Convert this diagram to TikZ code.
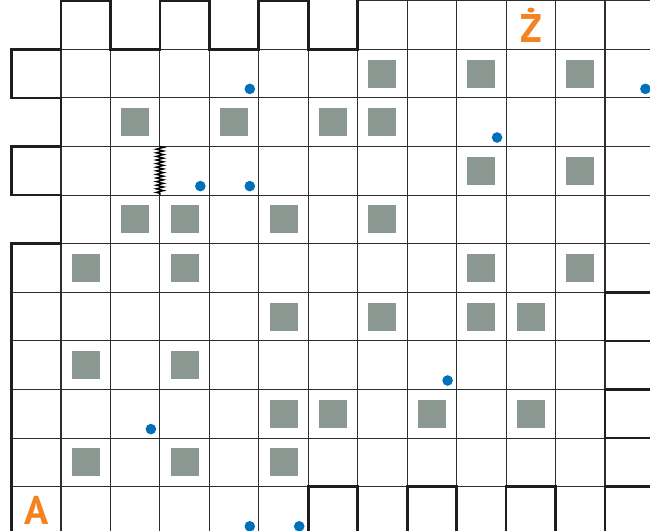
\documentclass[tikz,border=0pt]{standalone}
\usepackage{fontspec}
\newfontfamily\lblfont{PT Sans}
\usetikzlibrary{decorations.pathmorphing}
\definecolor{gridc}{RGB}{45,45,45}
\definecolor{wallc}{RGB}{30,30,30}
\definecolor{blockc}{RGB}{138,152,145}
\definecolor{dotc}{RGB}{0,112,186}
\definecolor{letc}{RGB}{245,130,32}
\begin{document}
\begin{tikzpicture}[x=49.45pt,y=-48.6pt,
  gridline/.style={draw=gridc,line width=1.1pt},
  wall/.style={draw=wallc,line width=2.7pt,line join=miter},
  block/.style={fill=blockc},
  token/.style={fill=dotc},
  spring/.style={draw=black,line width=1.3pt,decorate,
    decoration={zigzag,segment length=3.6pt,amplitude=3.8pt}},
  letter/.style={text=letc,font=\lblfont\bfseries\fontsize{40}{40}\selectfont,inner sep=0pt}]
\useasboundingbox (-0.2336,-0.0144) rectangle (12.911,10.891);
\clip (-0.2336,-0.0144) rectangle (12.911,10.891);
% thin grid of present cells
\foreach \j/\cols in {0/{1,3,5,7,8,9,10,11,12},1/{0,...,12},2/{1,...,12},3/{0,...,12},
  4/{1,...,12},5/{0,...,12},6/{0,...,11},7/{0,...,12},8/{0,...,11},9/{0,...,12},
  10/{0,1,2,3,4,5,7,9,11}}{
  \foreach \i in \cols {\draw[gridline] (\i,\j) rectangle ++(1,1);}
}
% grey blocks
\foreach \i/\j in {7/1,9/1,11/1, 2/2,4/2,6/2,7/2, 9/3,11/3, 2/4,3/4,5/4,7/4,
  1/5,3/5,9/5,11/5, 5/6,7/6,9/6,10/6, 1/7,3/7, 5/8,6/8,8/8,10/8, 1/9,3/9,5/9}{
  \fill[block] (\i+0.5,\j+0.5) ++(-14pt,-14pt) rectangle ++(28pt,28pt);
}
% blue tokens
\foreach \i/\j in {4/1,12/1,9/2,3/3,4/3,8/7,2/8,4/10,5/10}{
  \fill[token] (\i+1,\j+1) ++(-9pt,9pt) circle (5.3pt);
}
% outer walls
\draw[wall] (0,11.2) -- (0,5) -- (1,5) -- (1,4) -- (0,4) -- (0,3) -- (1,3) -- (1,2)
  -- (0,2) -- (0,1) -- (1,1) -- (1,0) -- (2,0) -- (2,1) -- (3,1) -- (3,0) -- (4,0)
  -- (4,1) -- (5,1) -- (5,0) -- (6,0) -- (6,1) -- (7,1) -- (7,-0.3);
\draw[wall] (6,11.2) -- (6,10) -- (7,10) -- (7,11.2);
\draw[wall] (8,11.2) -- (8,10) -- (9,10) -- (9,11.2);
\draw[wall] (10,11.2) -- (10,10) -- (11,10) -- (11,11.2);
\draw[wall] (12,11.2) -- (12,10) -- (13.2,10);
\draw[wall] (13.2,6) -- (12,6) -- (12,7) -- (13.2,7);
\draw[wall] (13.2,8) -- (12,8) -- (12,9) -- (13.2,9);
% spring
\coordinate (sprA) at (3,3);
\coordinate (sprB) at (3,4);
\draw[spring] (sprA) -- (sprB);
% letters
\node[letter] (zlet) at (10.5,0.5) {Ż};
\node[letter] (alet) at ([yshift=1pt]0.5,10.5) {A};
\end{tikzpicture}
\end{document}
